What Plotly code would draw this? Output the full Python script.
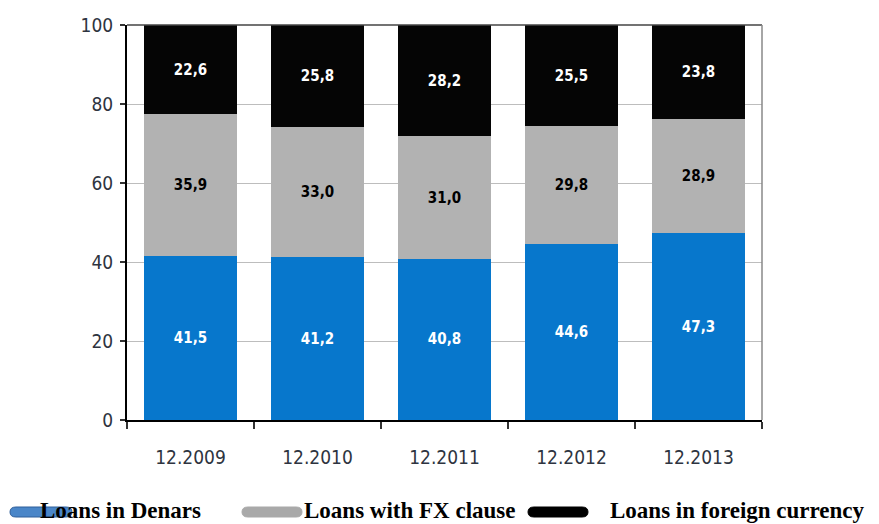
import plotly.graph_objects as go

categories = ["12.2009", "12.2010", "12.2011", "12.2012", "12.2013"]
denars = [41.5, 41.2, 40.8, 44.6, 47.3]
fx_clause = [35.9, 33.0, 31.0, 29.8, 28.9]
foreign = [22.6, 25.8, 28.2, 25.5, 23.8]
labels_denars = ["41,5", "41,2", "40,8", "44,6", "47,3"]
labels_fx = ["35,9", "33,0", "31,0", "29,8", "28,9"]
labels_foreign = ["22,6", "25,8", "28,2", "25,5", "23,8"]
series_names = ["Loans in Denars", "Loans with FX clause", "Loans in foreign currency"]
colors = ["#0777CC", "#B2B2B2", "#050505"]
swatch_colors = ["#4A86C8", "#A9A9A9", "#000000"]
swatch_lines = ["#2F5F9A", "#A9A9A9", "#000000"]
text_colors = ["white", "black", "white"]

# page has an 8px body margin: figure occupies page pixels 8..879 x 8..524
OFF = 8
W, H = 879 - OFF, 524 - OFF
L, R, T, B = 127 - OFF, 117, 25 - OFF, 104
PW, PH = W - L - R, H - T - B

def px_x(p):  # page pixel -> paper x
    return (p - OFF - L) / PW

def px_y(p):  # page pixel -> paper y
    return (H - B - (p - OFF)) / PH

NARROW = "DejaVu Sans Condensed, Liberation Sans Narrow, Arial Narrow, sans-serif"

fig = go.Figure()
for name, vals, labs, c, tc in zip(series_names, [denars, fx_clause, foreign],
                                   [labels_denars, labels_fx, labels_foreign], colors, text_colors):
    fig.add_trace(go.Bar(
        x=categories, y=vals, text=labs, name=name, textposition="inside",
        insidetextanchor="middle", textangle=0,
        textfont=dict(color=tc, size=15, family=NARROW, weight="bold"),
        marker=dict(color=c, line=dict(width=0)), showlegend=False, hoverinfo="skip",
    ))

# custom legend (rounded swatches + real text)
swatches = [(10, 72), (242, 302), (528, 588)]
text_x = [38, 302, 608]
shapes = [
    dict(type="line", xref="paper", yref="paper", x0=0, x1=1, y0=1, y1=1,
         line=dict(color="#444", width=1.5)),
    dict(type="line", xref="paper", yref="paper", x0=1, x1=1, y0=0, y1=1,
         line=dict(color="#888", width=1.5)),
]
annotations = []
for (sx0, sx1), tx, name, c, lc in zip(swatches, text_x, series_names, swatch_colors, swatch_lines):
    x0, x1 = px_x(sx0), px_x(sx1)
    xa, xb = px_x(sx0 + 6), px_x(sx1 - 6)
    yt, yb, ym = px_y(507), px_y(517), px_y(512)
    path = (f"M {xa},{yt} L {xb},{yt} Q {x1},{yt} {x1},{ym} Q {x1},{yb} {xb},{yb} "
            f"L {xa},{yb} Q {x0},{yb} {x0},{ym} Q {x0},{yt} {xa},{yt} Z")
    shapes.append(dict(type="path", xref="paper", yref="paper", layer="above", path=path,
                       fillcolor=c, line=dict(width=1, color=lc)))
    annotations.append(dict(
        xref="paper", yref="paper", x=px_x(tx), y=px_y(511), xanchor="left", yanchor="middle",
        text=name, showarrow=False,
        font=dict(family="Liberation Serif, Times New Roman, serif", size=23, color="black", weight="bold"),
    ))

fig.update_layout(
    barmode="stack", bargap=0.26,
    width=W, height=H,
    margin=dict(l=L, r=R, t=T, b=B, autoexpand=False),
    plot_bgcolor="white", paper_bgcolor="white",
    uniformtext=dict(minsize=10, mode="show"),
    showlegend=False,
    xaxis=dict(
        tickfont=dict(family=NARROW, size=19, color="#2E3440"),
        showline=True, linecolor="black", linewidth=2,
        ticks="outside", tickson="boundaries", ticklen=7, tickcolor="#333", tickwidth=1.5,
        ticklabelstandoff=19,
        showgrid=False,
    ),
    yaxis=dict(
        range=[0, 100], tickvals=[0, 20, 40, 60, 80, 100],
        tickfont=dict(family=NARROW, size=19, color="#2E3440"),
        showline=True, linecolor="black", linewidth=2,
        ticks="outside", ticklen=5, tickcolor="#333", tickwidth=1.5,
        ticklabelstandoff=3,
        showgrid=True, gridcolor="#BDBDBD", gridwidth=1,
        zeroline=False,
    ),
    shapes=shapes,
    annotations=annotations,
)

fig.write_html("out.html")
